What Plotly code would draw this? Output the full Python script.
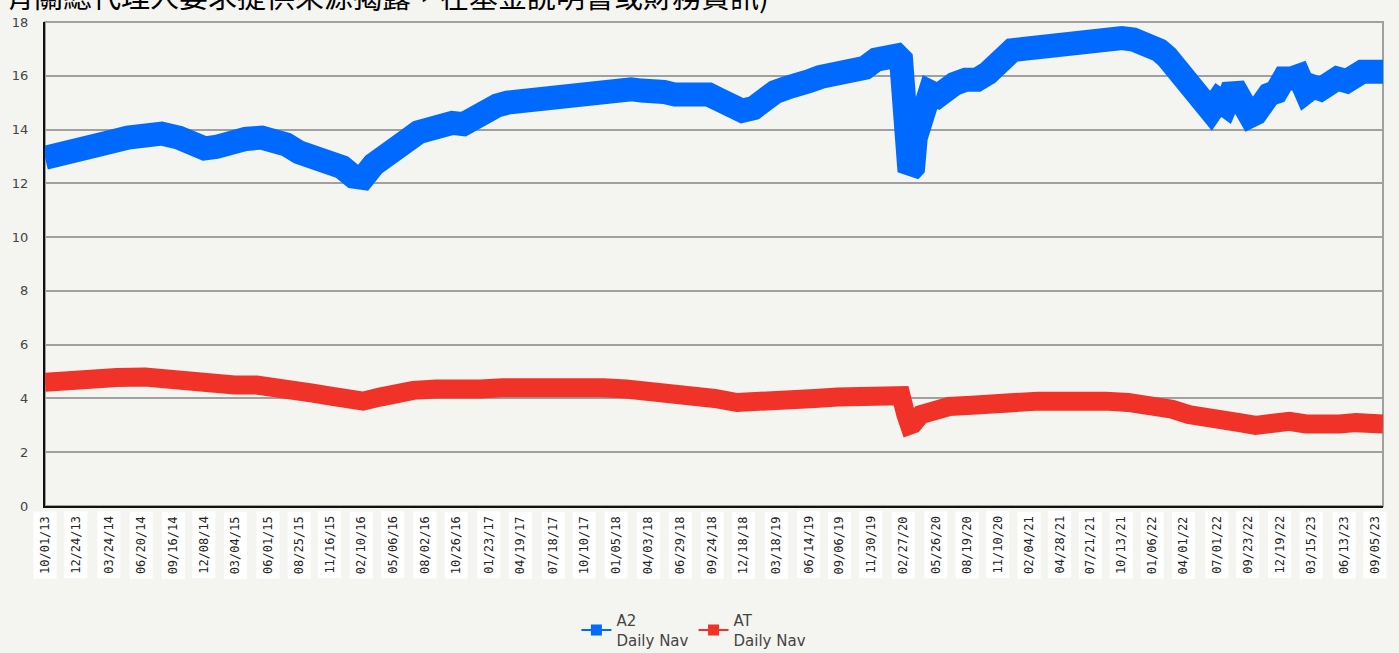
import plotly.graph_objects as go

# ---- data ----
a2_dates = [
    "2013-10-01", "2013-11-15", "2014-01-01", "2014-02-15", "2014-04-01", "2014-05-15",
    "2014-07-01", "2014-08-15", "2014-10-01", "2014-11-01", "2014-12-10", "2015-01-10",
    "2015-02-15", "2015-04-01", "2015-05-15", "2015-06-15", "2015-07-20", "2015-08-25",
    "2015-10-01", "2015-11-15", "2015-12-20", "2016-01-20", "2016-02-15", "2016-03-15",
    "2016-04-15", "2016-05-15", "2016-06-15", "2016-07-15", "2016-08-15", "2016-09-15",
    "2016-10-15", "2016-11-15", "2016-12-15", "2017-01-15", "2017-02-15", "2017-03-15",
    "2017-04-15", "2017-05-15", "2017-06-15", "2017-07-15", "2017-08-15", "2017-09-15",
    "2017-10-15", "2017-11-15", "2017-12-15", "2018-01-15", "2018-02-15", "2018-03-15",
    "2018-04-15", "2018-05-15", "2018-06-15", "2018-07-15", "2018-08-15", "2018-09-15",
    "2018-10-15", "2018-11-15", "2018-12-15", "2019-01-15", "2019-02-15", "2019-03-15",
    "2019-04-15", "2019-05-15", "2019-06-15", "2019-07-15", "2019-08-15", "2019-09-15",
    "2019-10-15", "2019-11-15", "2019-12-15", "2020-01-15", "2020-02-10", "2020-02-21",
    "2020-03-05", "2020-03-15", "2020-03-25", "2020-04-01", "2020-04-20", "2020-05-01",
    "2020-05-10", "2020-06-01", "2020-06-20", "2020-07-15", "2020-08-15", "2020-09-15",
    "2020-10-15", "2020-11-10", "2020-12-01", "2020-12-20", "2021-01-20", "2021-02-20",
    "2021-03-20", "2021-04-15", "2021-05-10", "2021-06-10", "2021-07-15", "2021-08-15",
    "2021-09-15", "2021-10-15", "2021-11-15", "2021-12-15", "2022-01-05", "2022-01-25",
    "2022-02-15", "2022-03-08", "2022-03-30", "2022-04-20", "2022-05-10", "2022-05-25",
    "2022-06-15", "2022-07-05", "2022-07-25", "2022-08-15", "2022-09-05", "2022-09-30",
    "2022-10-15", "2022-11-01", "2022-11-20", "2022-12-10", "2022-12-31", "2023-01-20",
    "2023-02-10", "2023-03-01", "2023-03-20", "2023-04-10", "2023-05-01", "2023-05-25",
    "2023-06-20", "2023-07-10", "2023-08-01", "2023-08-25", "2023-09-15", "2023-09-27",
]
a2_nav = [
    12.95, 13.05, 13.2, 13.35, 13.55, 13.7,
    13.8, 13.85, 13.7, 13.5, 13.3, 13.35,
    13.55, 13.65, 13.7, 13.65, 13.45, 13.15,
    13.0, 12.95, 12.6, 12.25, 12.2, 12.7,
    13.1, 13.4, 13.6, 13.9, 14.1, 14.2,
    14.25, 14.2, 14.5, 14.75, 14.9, 15.0,
    15.05, 15.1, 15.15, 15.25, 15.3, 15.4,
    15.45, 15.5, 15.5, 15.65, 15.5, 15.45,
    15.5, 15.4, 15.3, 15.35, 15.35, 15.3,
    15.1, 14.9, 14.7, 14.8, 15.2, 15.4,
    15.55, 15.6, 15.8, 15.95, 16.0, 16.05,
    16.15, 16.3, 16.6, 16.75, 16.75, 16.6,
    14.0, 12.45, 12.6, 13.7, 14.3, 15.0,
    15.4, 15.25, 15.6, 15.7, 15.85, 15.85,
    16.1, 16.5, 16.8, 16.95, 17.0, 17.05,
    17.05, 17.15, 17.3, 17.4, 17.45, 17.45,
    17.45, 17.4, 17.35, 17.25, 17.2, 16.95,
    16.7, 16.35, 16.3, 15.95, 15.5, 15.2,
    14.7, 15.1, 14.9, 15.6, 15.1, 14.5,
    14.6, 15.0, 15.3, 15.4, 15.9, 15.9,
    16.0, 15.4, 15.6, 15.5, 15.7, 15.9,
    15.8, 16.1, 16.15, 16.15, 16.2, 16.15,
]

at_dates = [
    "2013-10-01", "2013-12-01", "2014-02-01", "2014-04-15", "2014-07-01", "2014-09-01",
    "2014-11-01", "2015-01-01", "2015-03-01", "2015-05-01", "2015-07-01", "2015-08-15",
    "2015-10-01", "2015-11-15", "2016-01-01", "2016-02-15", "2016-04-01", "2016-05-15",
    "2016-07-01", "2016-09-01", "2016-11-01", "2017-01-01", "2017-03-01", "2017-06-01",
    "2017-09-01", "2017-12-01", "2018-02-01", "2018-04-01", "2018-06-01", "2018-08-01",
    "2018-10-01", "2018-12-01", "2019-01-15", "2019-03-01", "2019-05-01", "2019-07-01",
    "2019-09-01", "2019-11-01", "2020-01-01", "2020-02-21", "2020-03-05", "2020-03-15",
    "2020-03-25", "2020-04-15", "2020-05-15", "2020-07-01", "2020-09-01", "2020-11-01",
    "2021-01-01", "2021-03-01", "2021-05-01", "2021-07-01", "2021-09-01", "2021-11-01",
    "2022-01-01", "2022-03-01", "2022-04-15", "2022-06-01", "2022-07-15", "2022-09-01",
    "2022-10-15", "2022-12-01", "2023-01-15", "2023-03-01", "2023-04-15", "2023-06-01",
    "2023-07-15", "2023-09-01", "2023-09-27",
]
at_nav = [
    4.6, 4.7, 4.75, 4.78, 4.8, 4.7,
    4.55, 4.5, 4.5, 4.5, 4.45, 4.3,
    4.2, 4.1, 3.95, 3.9, 4.05, 4.2,
    4.3, 4.35, 4.3, 4.35, 4.4, 4.45,
    4.45, 4.4, 4.35, 4.3, 4.2, 4.15,
    4.0, 3.85, 3.85, 3.95, 4.0, 4.0,
    4.05, 4.1, 4.1, 4.1, 3.4, 3.0,
    3.05, 3.4, 3.55, 3.7, 3.75, 3.85,
    3.95, 3.9, 3.9, 3.95, 3.9, 3.85,
    3.75, 3.6, 3.4, 3.25, 3.15, 3.1,
    3.0, 3.1, 3.15, 3.05, 3.0, 3.05,
    3.1, 3.05, 3.05,
]

tick_dates = [
    "2013-10-01", "2013-12-24", "2014-03-24", "2014-06-20", "2014-09-16", "2014-12-08",
    "2015-03-04", "2015-06-01", "2015-08-25", "2015-11-16", "2016-02-10", "2016-05-06",
    "2016-08-02", "2016-10-26", "2017-01-23", "2017-04-19", "2017-07-18", "2017-10-10",
    "2018-01-05", "2018-04-03", "2018-06-29", "2018-09-24", "2018-12-18", "2019-03-18",
    "2019-06-14", "2019-09-06", "2019-11-30", "2020-02-27", "2020-05-26", "2020-08-19",
    "2020-11-10", "2021-02-04", "2021-04-28", "2021-07-21", "2021-10-13", "2022-01-06",
    "2022-04-01", "2022-07-01", "2022-09-23", "2022-12-19", "2023-03-15", "2023-06-13",
    "2023-09-05",
]
tick_labels = [
    "10/01/13", "12/24/13", "03/24/14", "06/20/14", "09/16/14", "12/08/14",
    "03/04/15", "06/01/15", "08/25/15", "11/16/15", "02/10/16", "05/06/16",
    "08/02/16", "10/26/16", "01/23/17", "04/19/17", "07/18/17", "10/10/17",
    "01/05/18", "04/03/18", "06/29/18", "09/24/18", "12/18/18", "03/18/19",
    "06/14/19", "09/06/19", "11/30/19", "02/27/20", "05/26/20", "08/19/20",
    "11/10/20", "02/04/21", "04/28/21", "07/21/21", "10/13/21", "01/06/22",
    "04/01/22", "07/01/22", "09/23/22", "12/19/22", "03/15/23", "06/13/23",
    "09/05/23",
]
series_names = ["A2<br>Daily Nav", "AT<br>Daily Nav"]
y_ticks = [0, 2, 4, 6, 8, 10, 12, 14, 16, 18]
header_text = "有關總代理人要求提供來源揭露，在基金說明書或財務資訊)"

BLUE = "#0069ff"
RED = "#f03228"
BG = "#f4f4f0"

fig = go.Figure()
fig.add_trace(go.Scatter(x=a2_dates, y=a2_nav, mode="lines", showlegend=False,
                         line=dict(color=BLUE, width=24), hoverinfo="skip"))
fig.add_trace(go.Scatter(x=at_dates, y=at_nav, mode="lines", showlegend=False,
                         line=dict(color=RED, width=19), hoverinfo="skip"))
# legend entries
for name, col in zip(series_names, [BLUE, RED]):
    fig.add_trace(go.Scatter(x=[None], y=[None], mode="lines+markers", name=name,
                             line=dict(color=col, width=2),
                             marker=dict(symbol="square", size=11, color=col)))

# plot border (gray top/right)
fig.add_shape(type="rect", xref="paper", yref="paper", x0=0, x1=1, y0=0, y1=1,
              line=dict(color="#a0a0a0", width=2), layer="below")

# x tick labels in white boxes
for d, lab in zip(tick_dates, tick_labels):
    fig.add_annotation(x=d, y=0, xref="x", yref="paper", text=lab, textangle=-90,
                       showarrow=False, xanchor="center", yanchor="top", yshift=-5,
                       bgcolor="white", borderpad=4,
                       font=dict(family="DejaVu Sans Mono", size=12, color="#222222"))

# cropped header text
fig.add_annotation(x=0, y=1, xref="paper", yref="paper", text=header_text,
                   showarrow=False, xanchor="left", yanchor="bottom",
                   xshift=-42, yshift=4,
                   font=dict(family="Noto Sans CJK TC", size=29, color="#000000"))

fig.update_layout(
    width=1399, height=653,
    margin=dict(l=40, r=16, t=22, b=147),
    paper_bgcolor=BG, plot_bgcolor=BG,
    xaxis=dict(type="date", range=["2013-10-01", "2023-09-27"],
               showticklabels=False, showgrid=False, zeroline=False,
               showline=True, linecolor="#111111", linewidth=2, ticks=""),
    yaxis=dict(range=[0, 18], tickvals=y_ticks, showgrid=True,
               gridcolor="#a0a0a0", gridwidth=1.5, zeroline=False,
               showline=True, linecolor="#111111", linewidth=2, ticks="",
               ticklabelstandoff=12,
               tickfont=dict(family="DejaVu Sans", size=13, color="#444444")),
    legend=dict(orientation="h", xref="container", yref="container",
                x=0.496, xanchor="center", y=0.075, yanchor="top",
                bgcolor="rgba(0,0,0,0)", itemwidth=30, tracegroupgap=0,
                font=dict(family="DejaVu Sans", size=15, color="#444444")),
)

fig.write_html("out.html", config={"displayModeBar": False},
               post_script="document.body.style.margin='0';document.body.style.overflow='hidden';")
